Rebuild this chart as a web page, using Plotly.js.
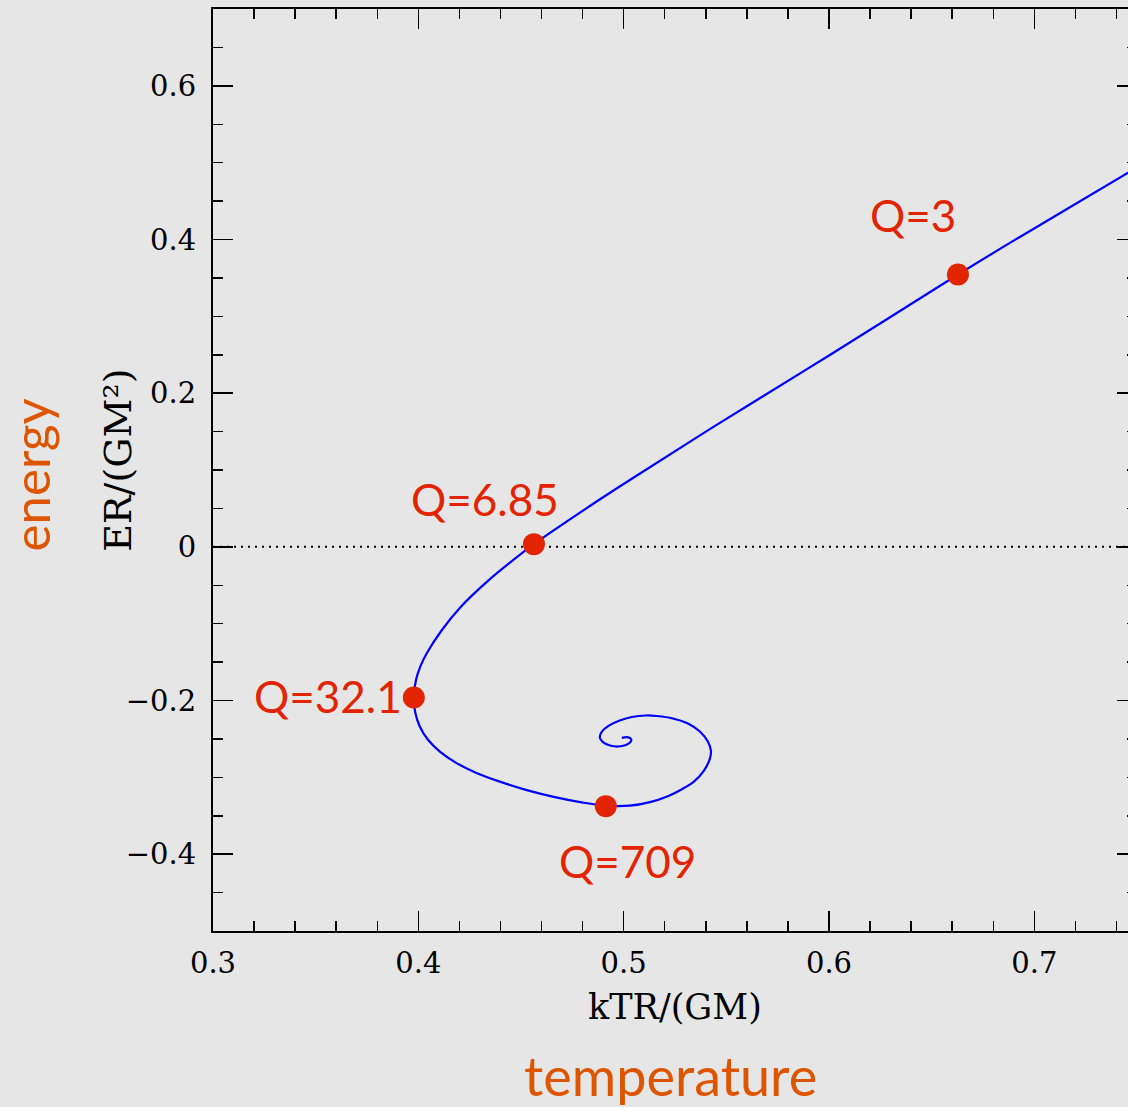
<!DOCTYPE html>
<html>
<head>
<meta charset="utf-8">
<script src="https://cdn.plot.ly/plotly-3.0.1.min.js"></script>
<style>
html,body{margin:0;padding:0;overflow:hidden;background:#e6e6e6;}
#chart{width:1200px;height:1107px;}
</style>
</head>
<body>
<div id="chart"></div>
<script>
// Curve: temperature kTR/(GM) and energy ER/(GM^2)
var curveT = [0.750, 0.7457, 0.6950, 0.6628, 0.6006, 0.5439, 0.5030, 0.4872, 0.4563,
  0.4455, 0.4343, 0.4205, 0.4114, 0.4041, 0.4010, 0.3988, 0.3978,
  0.3985, 0.4007, 0.4046, 0.4105, 0.4182, 0.4280, 0.4397, 0.4528, 0.4665, 0.4796, 0.4913,
  0.5030, 0.5128, 0.5215, 0.5284, 0.5342, 0.5391, 0.5420, 0.5425, 0.5410, 0.5371,
  0.5313, 0.5240, 0.5162, 0.5108, 0.5040, 0.4981, 0.4928, 0.4894, 0.4884, 0.4899,
  0.4934, 0.4972, 0.5011, 0.5035, 0.5035, 0.5016, 0.4991];
var curveE = [0.494, 0.4870, 0.4066, 0.3544, 0.2500, 0.1565, 0.0870, 0.0596, 0.0035,
  -0.0187, -0.0434, -0.0786, -0.1086, -0.1386, -0.1556, -0.1739, -0.1960,
  -0.2156, -0.2339, -0.2508, -0.2665, -0.2808, -0.2939, -0.3056, -0.3166, -0.3257, -0.3326, -0.3369,
  -0.3369, -0.3323, -0.3245, -0.3154, -0.3056, -0.2912, -0.2756, -0.2652, -0.2534, -0.2404,
  -0.2300, -0.2234, -0.2202, -0.2195, -0.2215, -0.2260, -0.2326, -0.2404, -0.2482, -0.2541,
  -0.2586, -0.2599, -0.2580, -0.2534, -0.2495, -0.2476, -0.2486];

// Marked points
var markLabels = ["Q=3", "Q=6.85", "Q=32.1", "Q=709"];
var markT = [0.6628, 0.4563, 0.3978, 0.4913];
var markE = [0.3544, 0.0035, -0.1960, -0.3375];

// Label text positions (data coordinates)
var labelT = [0.6409, 0.4324, 0.3559, 0.5020];
var labelE = [0.432, 0.062, -0.1935, -0.409];

var RED = "#e32400";
var ORANGE = "#de5500";
var SERIF = "DejaVu Serif, serif";
var SANS = "Lato, 'Open Sans', sans-serif";

var traces = [
  {x: curveT, y: curveE, mode: "lines", type: "scatter",
   line: {color: "#0000ff", width: 2.2, shape: "spline", smoothing: 1}, hoverinfo: "skip"},
  {x: markT, y: markE, mode: "markers", type: "scatter",
   marker: {color: RED, size: 22, line: {width: 0}}, hoverinfo: "skip"}
];

var annotations = markLabels.map(function(t, i){
  return {x: labelT[i], y: labelE[i], xref: "x", yref: "y", text: t, showarrow: false,
    xanchor: "center", yanchor: "middle", font: {family: SANS, size: 44, color: RED}};
});
annotations.push({xref: "paper", yref: "paper", x: -0.1965, y: 0.4946, text: "energy",
  showarrow: false, textangle: -90, xanchor: "center", yanchor: "middle",
  font: {family: SANS, size: 51, color: ORANGE}});
annotations.push({xref: "paper", yref: "paper", x: 0.4946, y: -0.1562, text: "temperature",
  showarrow: false, xanchor: "center", yanchor: "middle",
  font: {family: SANS, size: 54, color: ORANGE}});
// axis titles
annotations.push({xref: "paper", yref: "paper", x: 0.4995, y: -0.0824, text: "kTR/(GM)",
  showarrow: false, xanchor: "center", yanchor: "middle",
  font: {family: SERIF, size: 35, color: "#000"}});
annotations.push({xref: "paper", yref: "paper", x: -0.1031, y: 0.5108, text: "ER/(GM²)",
  showarrow: false, textangle: -90, xanchor: "center", yanchor: "middle",
  font: {family: SERIF, size: 38, color: "#000"}});

var axisCommon = {
  showgrid: false, zeroline: false, showline: true, linecolor: "#000", linewidth: 2,
  mirror: "ticks", ticks: "inside", ticklen: 20, tickwidth: 1.5, tickcolor: "#000",
  tickfont: {family: SERIF, size: 29, color: "#000"}
};

var layout = {
  width: 1200, height: 1107,
  paper_bgcolor: "#e6e6e6", plot_bgcolor: "#e6e6e6",
  margin: {l: 213, r: 63, t: 9, b: 176},
  showlegend: false,
  xaxis: Object.assign({}, axisCommon, {
    range: [0.3, 0.75], tick0: 0.3, dtick: 0.1, ticklabelstandoff: 5,
    minor: {dtick: 0.02, tick0: 0.3, ticks: "inside", ticklen: 10, tickwidth: 1.5, tickcolor: "#000"}
  }),
  yaxis: Object.assign({}, axisCommon, {
    range: [-0.5, 0.7], tick0: 0, dtick: 0.2, ticklabelstandoff: 9,
    minor: {dtick: 0.05, tick0: 0, ticks: "inside", ticklen: 10, tickwidth: 1.5, tickcolor: "#000"}
  }),
  shapes: [{type: "line", xref: "paper", yref: "y", x0: 0, x1: 1, y0: 0, y1: 0,
    line: {color: "#000", width: 2, dash: "2px,5px"}, layer: "below"}],
  annotations: annotations
};

Plotly.newPlot("chart", traces, layout, {staticPlot: true, displayModeBar: false});
</script>
</body>
</html>
